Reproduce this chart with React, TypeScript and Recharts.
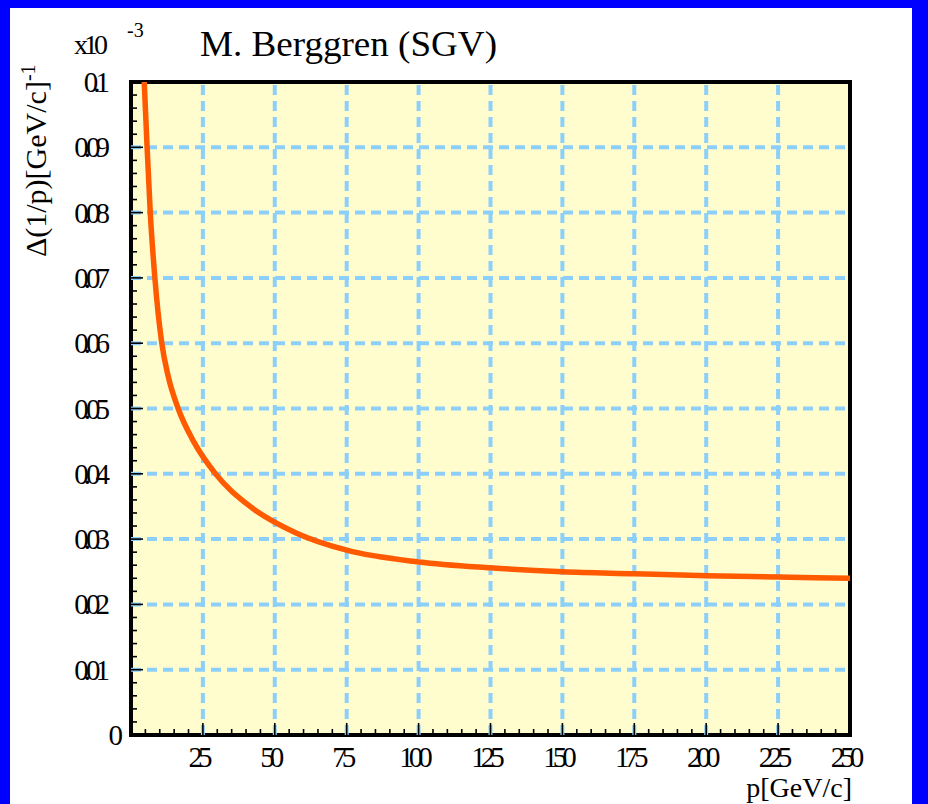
import React from 'react';
import {
  LineChart,
  Line,
  XAxis,
  YAxis,
  CartesianGrid,
  ReferenceLine,
  ReferenceArea,
} from 'recharts';

// ---- data ----
const momentum = [4.6, 5.6, 6.7, 8.3, 10.7, 12.9, 16.4, 21.7, 29.2, 41.4, 57.6, 75, 100, 125, 150, 175, 200, 225, 250];
const resolution = [0.1, 0.09, 0.08, 0.07, 0.06, 0.055, 0.05, 0.045, 0.0401, 0.035, 0.0309, 0.0283, 0.0265, 0.0256, 0.025, 0.0247, 0.0244, 0.0242, 0.024];

const xMajorTicks = [25, 50, 75, 100, 125, 150, 175, 200, 225, 250];
const xTickLabels = ['25', '50', '75', '100', '125', '150', '175', '200', '225', '250'];
const yMajorTicks = [0, 0.01, 0.02, 0.03, 0.04, 0.05, 0.06, 0.07, 0.08, 0.09, 0.1];
const yTickLabels = ['0', '0.01', '0.02', '0.03', '0.04', '0.05', '0.06', '0.07', '0.08', '0.09', '0.1'];
const xGridLines = [25, 50, 75, 100, 125, 150, 175, 200, 225];
const yGridLines = [0.01, 0.02, 0.03, 0.04, 0.05, 0.06, 0.07, 0.08, 0.09];

const xMinorTicks = Array.from({ length: 51 }, (_, i) => i * 5);
const yMinorTicks = Array.from({ length: 51 }, (_, i) => +(i * 0.002).toFixed(3));

const data = momentum.map((p, i) => ({ p, v: resolution[i] }));

const FONT = '"Liberation Serif", "DejaVu Serif", serif';
const GRID = '#8CCFFA';

const XTick = (props: any) => {
  const { x, y, payload } = props;
  const v = payload.value;
  const idx = xMajorTicks.indexOf(v);
  const major = idx >= 0;
  return (
    <g>
      {v > 0 && v < 250 && (
        <line x1={x} x2={x} y1={y} y2={y - (major ? 12 : 6)} stroke="#000" strokeWidth={1.6} />
      )}
      {major && (
        <text
          x={x - 5}
          y={y + 32}
          textAnchor="middle"
          fontFamily={FONT}
          fontSize={29}
          letterSpacing={-5}
          fill="#000"
        >
          {xTickLabels[idx]}
        </text>
      )}
    </g>
  );
};

const YTick = (props: any) => {
  const { x, y, payload } = props;
  const v = payload.value;
  const idx = yMajorTicks.findIndex((t) => Math.abs(t - v) < 1e-9);
  const major = idx >= 0;
  return (
    <g>
      {v > 0 && v < 0.1 && (
        <line x1={x} x2={x + (major ? 12 : 6)} y1={y} y2={y} stroke="#000" strokeWidth={1.6} />
      )}
      {major && (
        <text
          x={idx === 0 ? x - 13 : x - 26}
          y={y + 10}
          textAnchor="end"
          fontFamily={FONT}
          fontSize={29}
          letterSpacing={-5}
          fill="#000"
        >
          {yTickLabels[idx]}
        </text>
      )}
    </g>
  );
};

export default function App() {
  return (
    <div
      style={{
        position: 'absolute',
        left: 0,
        top: 0,
        width: 928,
        height: 804,
        background: '#fff',
        overflow: 'hidden',
      }}
    >
      <LineChart
        width={928}
        height={804}
        data={data}
        margin={{ top: 82, right: 78, bottom: 68, left: 130 }}
      >
        <CartesianGrid fill="#FFFDCD" horizontal={false} vertical={false} />
        {xGridLines.map((g) => (
          <ReferenceLine
            key={'vx' + g}
            x={g}
            stroke={GRID}
            strokeWidth={4}
            strokeDasharray="10 6"
          />
        ))}
        {yGridLines.map((g) => (
          <ReferenceLine
            key={'hy' + g}
            y={g}
            stroke={GRID}
            strokeWidth={4}
            strokeDasharray="10 6"
          />
        ))}
        <XAxis
          dataKey="p"
          type="number"
          domain={[0, 250]}
          allowDataOverflow
          ticks={xMinorTicks}
          interval={0}
          height={1}
          tickSize={0}
          tickMargin={0}
          tickLine={false}
          axisLine={false}
          tick={<XTick />}
        />
        <YAxis
          type="number"
          domain={[0, 0.1]}
          allowDataOverflow
          ticks={yMinorTicks}
          interval={0}
          width={1}
          tickSize={0}
          tickMargin={0}
          tickLine={false}
          axisLine={false}
          tick={<YTick />}
        />
        <Line
          type="monotone"
          dataKey="v"
          stroke="#FF5A00"
          strokeWidth={5.5}
          dot={false}
          activeDot={false}
          isAnimationActive={false}
        />
        <ReferenceArea
          x1={0}
          x2={250}
          y1={0}
          y2={0.1}
          fill="none"
          fillOpacity={0}
          stroke="#000"
          strokeWidth={4}
        />
      </LineChart>

      <svg
        width={928}
        height={804}
        style={{ position: 'absolute', left: 0, top: 0, pointerEvents: 'none' }}
      >
        <text x={74} y={54} fontFamily={FONT} fontSize={28} letterSpacing={-4} fill="#000">
          x10
        </text>
        <text x={127} y={37} fontFamily={FONT} fontSize={20} fill="#000">
          -3
        </text>
        <text
          x={200}
          y={56}
          fontFamily={FONT}
          fontSize={35}
          textLength={297}
          lengthAdjust="spacingAndGlyphs"
          fill="#000"
        >
          M. Berggren (SGV)
        </text>
        <text
          transform="translate(46,257) rotate(-90)"
          fontFamily={FONT}
          fontSize={30}
          fill="#000"
        >
          Δ(1/p)[GeV/c]
          <tspan dy={-11} fontSize={20}>
            -1
          </tspan>
        </text>
        <text x={852} y={797} textAnchor="end" fontFamily={FONT} fontSize={28} fill="#000">
          p[GeV/c]
        </text>
      </svg>

      <div
        style={{
          position: 'absolute',
          left: 0,
          top: 0,
          width: 928,
          height: 804,
          boxSizing: 'border-box',
          borderTop: '8px solid #0000FF',
          borderLeft: '10px solid #0000FF',
          borderRight: '16px solid #0000FF',
          pointerEvents: 'none',
        }}
      />
    </div>
  );
}
